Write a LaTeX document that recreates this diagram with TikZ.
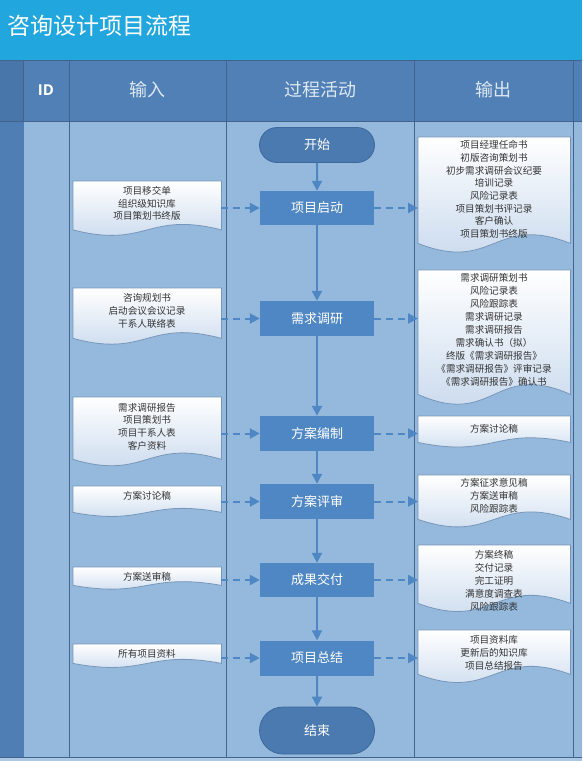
\documentclass[tikz,border=0pt]{standalone}
\usepackage{fontspec}
\newfontfamily\cjk{Noto Sans CJK SC}
\newfontfamily\latinsans{Open Sans}
\usetikzlibrary{arrows.meta,shapes.misc,calc}
\definecolor{titlebg}{RGB}{33,166,222}
\definecolor{headbg}{RGB}{80,128,181}
\definecolor{bodybg}{RGB}{148,185,220}
\definecolor{footbg}{RGB}{170,200,228}
\definecolor{stripbody}{RGB}{78,126,180}
\definecolor{striphead}{RGB}{72,118,170}
\definecolor{boxblue}{RGB}{79,135,196}
\definecolor{termfill}{RGB}{74,122,176}
\definecolor{termline}{RGB}{62,104,155}
\definecolor{sepline}{RGB}{66,100,140}
\definecolor{arrowc}{RGB}{78,135,196}
\definecolor{docborder}{RGB}{120,150,185}
\definecolor{docbottom}{RGB}{196,214,236}
\definecolor{headtext}{RGB}{222,232,244}
\newcommand\docshape[2]{%
  \path[docfill] (#1.north west) -- (#1.north east) -- (#1.south east)
    .. controls ([yshift=#2pt]#1.south) and ([yshift=-#2pt]#1.south) .. (#1.south west) -- cycle;}
\begin{document}
\begin{tikzpicture}[x=1pt,y=-1pt,
  sepl/.style={draw=sepline,line width=0.9pt},
  headtxt/.style={text=headtext,font=\cjk\fontsize{18}{18}\selectfont,inner sep=0},
  proc/.style={rectangle,fill=boxblue,minimum width=114pt,minimum height=34pt,inner sep=0,
    text=white,font=\cjk\fontsize{13}{13}\selectfont},
  term/.style={rounded rectangle,fill=termfill,draw=termline,line width=0.8pt,minimum width=115pt,
    inner sep=0,text=white,font=\cjk\fontsize{13}{13}\selectfont},
  indoc/.style={rectangle,anchor=north west,minimum width=148pt,inner sep=0},
  outdoc/.style={rectangle,anchor=north west,minimum width=152pt,inner sep=0},
  docfill/.style={draw=docborder,line width=0.8pt,top color=white,bottom color=docbottom},
  doctext/.style={align=center,inner sep=0,text=black!80,font=\cjk\fontsize{9.6}{12.7}\selectfont},
  doctextb/.style={align=center,inner sep=0,text=black!80,font=\cjk\fontsize{9.6}{13}\selectfont},
  flow/.style={draw=arrowc,line width=2pt,-{Triangle[length=10pt,width=10pt]}},
  dflow/.style={draw=arrowc,line width=2pt,dash pattern=on 7pt off 5pt,-{Triangle[length=10pt,width=10pt]}}
]
\useasboundingbox (0,0) rectangle (582,761);
% backgrounds
\fill[titlebg] (0,0) rectangle (582,60);
\fill[headbg] (0,60) rectangle (582,121);
\fill[bodybg] (0,121) rectangle (582,757);
\fill[footbg] (0,757) rectangle (582,761);
\fill[striphead] (0,60) rectangle (23,121);
\fill[stripbody] (0,121) rectangle (24,757);
\draw[sepl] (0,60) -- (582,60);
\draw[sepl] (0,121) -- (582,121);
\draw[sepl] (0,757) -- (582,757);
\draw[sepl] (23,60) -- (23,121);
\draw[sepl] (69,60) -- (69,757);
\draw[sepl] (226,60) -- (226,757);
\draw[sepl] (414,60) -- (414,757);
\draw[sepl] (573,60) -- (573,757);
% title and headers
\node[anchor=west,inner sep=0,text=white,font=\cjk\fontsize{23}{23}\selectfont] (title) at (7,26) {咨询设计项目流程};
\node[text=white,font=\latinsans\bfseries\fontsize{15}{15}\selectfont,inner sep=0] (hid) at (46,90) {ID};
\node[headtxt] (hin) at (147,90) {输入};
\node[headtxt] (hproc) at (320,90) {过程活动};
\node[headtxt] (hout) at (493,90) {输出};
% process column
\node[term,minimum height=35pt] (start) at (317,145) {开始};
\node[proc] (p1) at (317,208) {项目启动};
\node[proc,minimum height=35pt] (p2) at (317,318.5) {需求调研};
\node[proc,minimum height=35pt] (p3) at (317,433.5) {方案编制};
\node[proc,minimum height=35pt] (p4) at (317,501.5) {方案评审};
\node[proc] (p5) at (317,580) {成果交付};
\node[proc,minimum height=35pt] (p6) at (317,658) {项目总结};
\node[term,minimum height=47pt] (end) at (317,730.5) {结束};
% input documents
\node[indoc,minimum height=48.5pt] (i1) at (73,181) {};
\node[indoc,minimum height=50pt] (i2) at (73,288) {};
\node[indoc,minimum height=62pt] (i3) at (73,397) {};
\node[indoc,minimum height=26pt] (i4) at (73,486) {};
\node[indoc,minimum height=18pt] (i5) at (73,567) {};
\node[indoc,minimum height=19pt] (i6) at (73,644) {};
\docshape{i1}{19}
\docshape{i2}{20}
\docshape{i3}{22}
\docshape{i4}{14}
\docshape{i5}{13}
\docshape{i6}{14}
\node[doctext] (i1t) at (147,203.5) {项目移交单\\组织级知识库\\项目策划书终版};
\node[doctext] (i2t) at (147,311) {咨询规划书\\启动会议会议记录\\干系人联络表};
\node[doctext] (i3t) at (147,426.5) {需求调研报告\\项目策划书\\项目干系人表\\客户资料};
\node[doctext] (i4t) at (147,496) {方案讨论稿};
\node[doctext] (i5t) at (147,577) {方案送审稿};
\node[doctext] (i6t) at (147,654) {所有项目资料};
% output documents
\node[outdoc,minimum height=106pt] (o1) at (418,137) {};
\node[outdoc,minimum height=124pt] (o2) at (418,270) {};
\node[outdoc,minimum height=26pt] (o3) at (418,416) {};
\node[outdoc,minimum height=44pt] (o4) at (418,475) {};
\node[outdoc,minimum height=58pt] (o5) at (418,545) {};
\node[outdoc,minimum height=44pt] (o6) at (418,630) {};
\docshape{o1}{30}
\docshape{o2}{34}
\docshape{o3}{16}
\docshape{o4}{26}
\docshape{o5}{28}
\docshape{o6}{28}
\node[doctext] (o1t) at (494,189.5) {项目经理任命书\\初版咨询策划书\\初步需求调研会议纪要\\培训记录\\风险记录表\\项目策划书评记录\\客户确认\\项目策划书终版};
\node[doctextb] (o2t) at (494,330) {需求调研策划书\\风险记录表\\风险跟踪表\\需求调研记录\\需求调研报告\\需求确认书（拟）\\终版《需求调研报告》\\《需求调研报告》评审记录\\《需求调研报告》确认书};
\node[doctext] (o3t) at (494,429) {方案讨论稿};
\node[doctextb] (o4t) at (494,496) {方案征求意见稿\\方案送审稿\\风险跟踪表};
\node[doctextb] (o5t) at (494,581) {方案终稿\\交付记录\\完工证明\\满意度调查表\\风险跟踪表};
\node[doctextb] (o6t) at (494,653) {项目资料库\\更新后的知识库\\项目总结报告};
% flow arrows
\draw[flow] (start) -- (p1);
\draw[flow] (p1) -- (p2);
\draw[flow] (p2) -- (p3);
\draw[flow] (p3) -- (p4);
\draw[flow] (p4) -- (p5);
\draw[flow] (p5) -- (p6);
\draw[flow] (p6) -- (end);
% input arrows
\draw[dflow] (i1.east |- p1.west) -- (p1.west);
\draw[dflow] (i2.east |- p2.west) -- (p2.west);
\draw[dflow] (i3.east |- p3.west) -- (p3.west);
\draw[dflow] (i4.east |- p4.west) -- (p4.west);
\draw[dflow] (i5.east |- p5.west) -- (p5.west);
\draw[dflow] (i6.east |- p6.west) -- (p6.west);
% output arrows
\draw[dflow] (p1.east) -- (p1.east -| o1.west);
\draw[dflow] (p2.east) -- (p2.east -| o2.west);
\draw[dflow] (p3.east) -- (p3.east -| o3.west);
\draw[dflow] (p4.east) -- (p4.east -| o4.west);
\draw[dflow] (p5.east) -- (p5.east -| o5.west);
\draw[dflow] (p6.east) -- (p6.east -| o6.west);
\end{tikzpicture}
\end{document}
